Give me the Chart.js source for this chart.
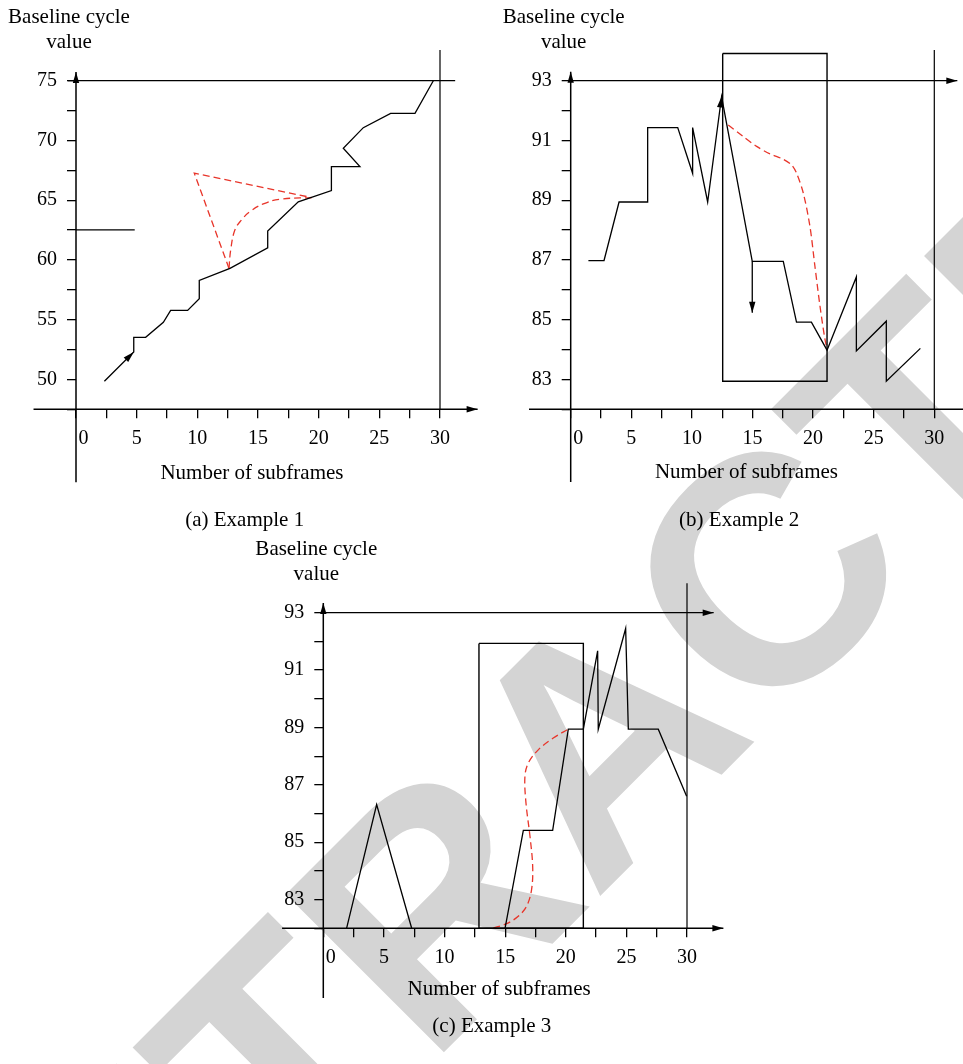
<!DOCTYPE html>
<html>
<head>
<meta charset="utf-8">
<script src="https://cdn.jsdelivr.net/npm/chart.js@4.4.0/dist/chart.umd.min.js"></script>
<style>
  body { margin: 0; background: #fff; }
  #page { position: relative; width: 963px; height: 1064px; overflow: hidden; }
  canvas { position: absolute; }
  #wm { left: 0; top: 0; z-index: 0; }
  #chartA { left: 0; top: 0; z-index: 1; }
  #chartB { left: 482px; top: 0; z-index: 1; }
  #chartC { left: 200px; top: 540px; z-index: 1; }
</style>
</head>
<body>
<div id="page">
  <canvas id="wm" width="963" height="1064"></canvas>
  <canvas id="chartA" width="481" height="540"></canvas>
  <canvas id="chartB" width="481" height="540"></canvas>
  <canvas id="chartC" width="563" height="524"></canvas>
</div>
<script>
// tick labels
const xTickLabels = ['0', '5', '10', '15', '20', '25', '30'];
const yTickLabelsA = ['50', '55', '60', '65', '70', '75'];
const yTickLabelsBC = ['83', '85', '87', '89', '91', '93'];

// (a) Example 1
const aMainX = [2.34, 4.76, 4.76, 5.74, 7.2, 7.8, 9.2, 10.16, 10.16, 12.69, 15.8, 15.8, 18.32, 21.05, 21.05, 23.4, 22.03, 23.68, 25.93, 27.94, 29.45];
const aMainY = [49.85, 52.3, 53.52, 53.52, 54.78, 55.78, 55.78, 56.75, 58.29, 59.29, 61.02, 62.41, 64.86, 65.8, 67.81, 67.81, 69.35, 71.07, 72.27, 72.27, 75];
const aLevelX = [0, 4.84];
const aLevelY = [62.52, 62.52];
const aTriX = [12.61, 9.75, 19.42];
const aTriY = [59.29, 67.26, 65.22];
const aCurveX = [12.61, 12.75, 13.1, 13.65, 14.34, 15.44, 16.81, 19.42];
const aCurveY = [59.29, 60.85, 62.52, 63.36, 64.05, 64.69, 65.08, 65.22];
const aTopX = [-0.66, 31.25];
const aTopY = [75, 75];
const aVertX = [30, 30];
const aVertY = [77.56, 47.5];

// (b) Example 2
const bMainX = [1.46, 2.75, 3.99, 6.35, 6.35, 8.83, 10.06, 10.06, 11.3, 12.45, 14.98, 17.54, 18.63, 19.86, 21.15, 23.57, 23.57, 26.04, 26.04, 28.85];
const bMainY = [86.98, 86.98, 88.94, 88.94, 91.43, 91.43, 89.9, 91.43, 88.94, 92.47, 86.95, 86.95, 84.92, 84.92, 83.98, 86.43, 83.95, 84.95, 82.94, 84.04];
const bDropX = [14.98, 14.98];
const bDropY = [86.95, 85.23];
const bBoxX = [12.54, 21.15, 21.15, 12.54, 12.54];
const bBoxY = [93.91, 93.91, 82.94, 82.94, 93.91];
const bCurveX = [13.0, 14.24, 15.34, 16.44, 17.54, 18.23, 18.64, 19.19, 19.74, 20.15, 20.57, 20.98, 21.17];
const bCurveY = [91.52, 91.13, 90.8, 90.55, 90.37, 90.18, 89.9, 89.24, 88.12, 86.79, 85.45, 84.34, 84.0];
const bTopX = [0, 31.9];
const bTopY = [93, 93];
const bVertX = [30, 30];
const bVertY = [94.03, 82];

// (c) Example 3
const cPeakX = [1.92, 4.4, 7.29];
const cPeakY = [82.0, 86.31, 82.0];
const cMainX = [14.99, 16.5, 18.92, 20.21, 21.45, 22.63, 22.68, 24.94, 25.16, 27.63, 29.97];
const cMainY = [82.0, 85.41, 85.41, 88.94, 88.94, 91.67, 88.94, 92.45, 88.94, 88.94, 86.6];
const cBoxX = [12.84, 21.45, 21.45, 12.84, 12.84];
const cBoxY = [91.93, 91.93, 82.0, 82.0, 91.93];
const cCurveX = [14.02, 15.12, 16.08, 16.77, 17.18, 17.27, 17.05, 16.72, 16.63, 16.91, 17.73, 18.97, 20.21];
const cCurveY = [82.01, 82.16, 82.42, 82.77, 83.35, 84.16, 85.2, 86.36, 87.29, 87.76, 88.22, 88.63, 88.94];
const cTopX = [0, 32.2];
const cTopY = [93, 93];
const cVertX = [30, 30];
const cVertY = [94.03, 82];

const FONT = '"Liberation Serif", "Times New Roman", serif';
const RED = '#e8352a';

const pts = (xs, ys) => xs.map((x, i) => ({ x: x, y: ys[i] }));
const seg = (xs, ys, i) => [xs[i - 1], ys[i - 1], xs[i], ys[i]];

function blackLine(xs, ys, w) {
  return { data: pts(xs, ys), showLine: true, borderColor: '#000', borderWidth: w || 1.3,
           pointRadius: 0, tension: 0, clip: false };
}
function redCurve(xs, ys, t) {
  return { data: pts(xs, ys), showLine: true, borderColor: RED, borderWidth: 1.3,
           borderDash: [7, 4], pointRadius: 0, tension: t, clip: false };
}

function arrowHead(ctx, x1, y1, x2, y2) {
  const a = Math.atan2(y2 - y1, x2 - x1), len = 11, w = 3.2;
  ctx.beginPath();
  ctx.moveTo(x2, y2);
  ctx.lineTo(x2 - len * Math.cos(a) + w * Math.sin(a), y2 - len * Math.sin(a) - w * Math.cos(a));
  ctx.lineTo(x2 - len * Math.cos(a) - w * Math.sin(a), y2 - len * Math.sin(a) + w * Math.cos(a));
  ctx.closePath();
  ctx.fill();
}

// axis lines, arrows and free texts
const decoPlugin = {
  id: 'deco',
  afterDraw(chart, args, o) {
    const ctx = chart.ctx, xs = chart.scales.x, ys = chart.scales.y, area = chart.chartArea;
    const px = v => xs.getPixelForValue(v), py = v => ys.getPixelForValue(v);
    ctx.save();
    ctx.strokeStyle = '#000';
    ctx.fillStyle = '#000';
    ctx.lineWidth = 1.5;
    const x0 = px(0), yb = py(ys.min);
    ctx.beginPath();
    ctx.moveTo(x0, py(o.yAxis[0]));
    ctx.lineTo(x0, py(o.yAxis[1]));
    ctx.moveTo(px(o.xAxis[0]), yb);
    ctx.lineTo(px(o.xAxis[1]), yb);
    ctx.stroke();
    arrowHead(ctx, x0, py(o.yAxis[0]), x0, py(o.yAxis[1]));
    arrowHead(ctx, px(o.xAxis[0]), yb, px(o.xAxis[1]), yb);
    o.arrows.forEach(a => arrowHead(ctx, px(a[0]), py(a[1]), px(a[2]), py(a[3])));

    ctx.font = '21px ' + FONT;
    ctx.textAlign = 'center';
    ctx.textBaseline = 'middle';
    ctx.fillText('Baseline cycle', x0 - 7, area.top - 63);
    ctx.fillText('value', x0 - 7, area.top - 38);
    ctx.fillText('Number of subframes', px(14.5), area.bottom + o.titleGap);
    ctx.fillText(o.caption, px(13.9), area.bottom + o.captionGap);
    ctx.restore();
  }
};

function makePanel(id, cfg) {
  const tickFont = { family: FONT, size: 20 };
  new Chart(document.getElementById(id), {
    type: 'scatter',
    data: { datasets: cfg.datasets },
    options: {
      responsive: false,
      animation: false,
      events: [],
      layout: { padding: cfg.pad },
      plugins: { legend: { display: false }, tooltip: { enabled: false }, deco: cfg.deco },
      scales: {
        x: {
          type: 'linear', min: 0, max: 30,
          afterFit: s => { s.height = 100; },
          border: { display: false },
          grid: { drawOnChartArea: false, drawTicks: true, tickLength: 9, color: '#000', lineWidth: 1.3 },
          ticks: {
            stepSize: 2.5, autoSkip: false, maxRotation: 0, padding: 8, color: '#000', font: tickFont,
            callback: v => {
              const s = String(v);
              if (!xTickLabels.includes(s)) return '';
              return s === '0' ? '   0' : s;
            }
          }
        },
        y: {
          type: 'linear', min: cfg.yMin, max: cfg.yMax,
          afterFit: s => { s.width = 50; },
          border: { display: false },
          grid: { drawOnChartArea: false, drawTicks: true, tickLength: 9, color: '#000', lineWidth: 1.3 },
          ticks: {
            stepSize: cfg.yStep, autoSkip: false, padding: 10, color: '#000', font: tickFont,
            callback: v => cfg.yLabels.includes(String(v)) ? String(v) : ''
          }
        }
      }
    },
    plugins: [decoPlugin]
  });
}

// watermark
(function () {
  const ctx = document.getElementById('wm').getContext('2d');
  ctx.save();
  ctx.rotate(-Math.PI / 4);
  ctx.fillStyle = '#d4d4d4';
  ctx.font = 'bold 325px "Liberation Sans", Arial, sans-serif';
  ctx.textBaseline = 'alphabetic';
  ctx.fillText('RETRACTED', -1102, 1058);
  ctx.restore();
})();

makePanel('chartA', {
  yMin: 47.5, yMax: 75, yStep: 2.5, yLabels: yTickLabelsA,
  pad: { left: 26, right: 41, top: 80.7, bottom: 30.7 },
  datasets: [
    blackLine(aMainX, aMainY),
    blackLine(aLevelX, aLevelY),
    blackLine(aTopX, aTopY, 1.2),
    blackLine(aVertX, aVertY, 1.2),
    redCurve(aTriX, aTriY, 0),
    redCurve(aCurveX, aCurveY, 0.4)
  ],
  deco: {
    yAxis: [41.4, 75.72], xAxis: [-3.5, 33.1],
    arrows: [seg(aMainX, aMainY, 1)],
    caption: '(a) Example 1', titleGap: 64, captionGap: 111
  }
});

makePanel('chartB', {
  yMin: 82, yMax: 93, yStep: 1, yLabels: yTickLabelsBC,
  pad: { left: 38.7, right: 28.7, top: 80.7, bottom: 30.7 },
  datasets: [
    blackLine(bMainX, bMainY),
    blackLine(bDropX, bDropY),
    blackLine(bBoxX, bBoxY, 1.4),
    blackLine(bTopX, bTopY, 1.2),
    blackLine(bVertX, bVertY, 1.2),
    redCurve(bCurveX, bCurveY, 0.3)
  ],
  deco: {
    yAxis: [79.57, 93.3], xAxis: [-3.44, 33.4],
    arrows: [seg(bMainX, bMainY, 9), seg(bDropX, bDropY, 1), seg(bTopX, bTopY, 1)],
    caption: '(b) Example 2', titleGap: 63, captionGap: 111
  }
});

makePanel('chartC', {
  yMin: 82, yMax: 93, yStep: 1, yLabels: yTickLabelsBC,
  pad: { left: 73.3, right: 76, top: 72.7, bottom: 35.7 },
  datasets: [
    blackLine(cPeakX, cPeakY),
    blackLine(cMainX, cMainY),
    blackLine(cBoxX, cBoxY, 1.4),
    blackLine(cTopX, cTopY, 1.2),
    blackLine(cVertX, cVertY, 1.2),
    redCurve(cCurveX, cCurveY, 0.35)
  ],
  deco: {
    yAxis: [79.57, 93.34], xAxis: [-3.4, 33.0],
    arrows: [seg(cTopX, cTopY, 1)],
    caption: '(c) Example 3', titleGap: 61, captionGap: 98
  }
});
</script>
</body>
</html>
